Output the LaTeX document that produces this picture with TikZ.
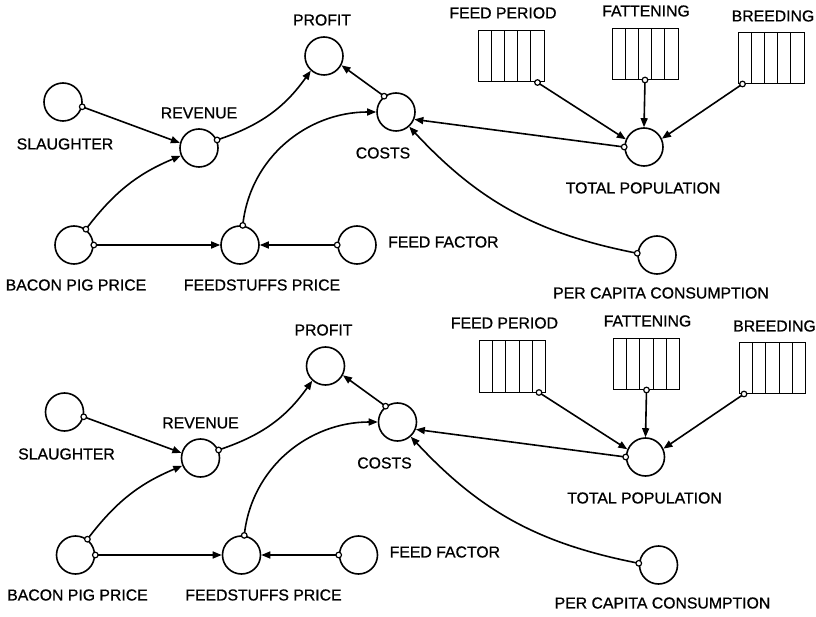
\documentclass[tikz,border=0pt]{standalone}
\usepackage{fontspec}
\setmainfont[FakeBold=0.8]{Liberation Sans}
\usetikzlibrary{arrows.meta,calc}

\tikzset{
  var/.style={circle, draw, line width=1.6pt, minimum size=38pt, inner sep=0pt},
  stock/.style={draw, line width=1pt, minimum width=66pt, minimum height=51pt, inner sep=0pt,
    path picture={\foreach \k in {1,...,4}{\draw[line width=1pt]
      ($(path picture bounding box.south west)+(\k*13.2pt,0)$) -- ++(0,51pt);}}},
  lab/.style={font=\fontsize{15.8}{18}\selectfont, inner sep=0pt},
  link/.style={line width=1.6pt, -{Triangle[length=9pt,width=7pt]}},
  tail/.style={draw, fill=white, line width=1.2pt},
}

% one influence link: start, end, path options; a small open circle marks the start
\newcommand\flow[3]{%
  \draw[link] (#1) to[#3] (#2);
  \draw[tail] (#1) circle[radius=2.8pt];
}

% the pig-cycle influence diagram, node names prefixed with #1
\newcommand\pigmodel[1]{%
  \node[var] (#1profit) at (324,-56) {};
  \node[var] (#1slaughter) at (63,-102) {};
  \node[var] (#1revenue) at (199,-148) {};
  \node[var] (#1costs) at (396,-112) {};
  \node[var] (#1bacon) at (74,-245) {};
  \node[var] (#1feedstuffs) at (240,-245) {};
  \node[var] (#1feedfactor) at (357,-245) {};
  \node[var] (#1totpop) at (644,-147) {};
  \node[var] (#1percap) at (657,-255) {};
  \node[stock] (#1feedperiod) at (511,-56.5) {};
  \node[stock] (#1fattening) at (645,-54) {};
  \node[stock] (#1breeding) at (771,-58) {};
  %
  \node[lab] (#1profitL) at (322,-20) {PROFIT};
  \node[lab] (#1slaughterL) at (65,-144) {SLAUGHTER};
  \node[lab] (#1revenueL) at (199,-113) {REVENUE};
  \node[lab] (#1costsL) at (383,-153) {COSTS};
  \node[lab] (#1baconL) at (76,-285) {BACON PIG PRICE};
  \node[lab] (#1feedstuffsL) at (262,-285) {FEEDSTUFFS PRICE};
  \node[lab, anchor=west] (#1feedfactorL) at (388,-242) {FEED FACTOR};
  \node[lab] (#1totpopL) at (643,-188) {TOTAL POPULATION};
  \node[lab] (#1percapL) at (661,-293) {PER CAPITA CONSUMPTION};
  \node[lab] (#1feedperiodL) at (503,-13) {FEED PERIOD};
  \node[lab] (#1fatteningL) at (646,-11) {FATTENING};
  \node[lab] (#1breedingL) at (773,-16) {BREEDING};
  %
  \coordinate (#1fpo) at ($(#1feedperiod.south east)+(-7pt,0)$);
  \coordinate (#1bro) at ($(#1breeding.south west)+(5pt,0)$);
  %
  \flow{#1slaughter.-14}{#1revenue.165}{}
  \flow{#1bacon.53}{#1revenue.203}{bend left=15}
  \flow{#1bacon.0}{#1feedstuffs.180}{}
  \flow{#1feedfactor.180}{#1feedstuffs.0}{}
  \flow{#1revenue.24}{#1profit.228}{bend right=18}
  \flow{#1costs.127}{#1profit.332}{}
  \flow{#1feedstuffs.82}{#1costs.180}{out=84,in=180}
  \flow{#1totpop.180}{#1costs.-22}{}
  \flow{#1percap.175}{#1costs.-48}{bend left=18}
  \flow{#1fpo}{#1totpop.157}{}
  \flow{#1fattening.south}{#1totpop.90}{}
  \flow{#1bro}{#1totpop.25}{}
}

\begin{document}
\begin{tikzpicture}[x=1pt,y=1pt]
  \useasboundingbox (0,0) rectangle (816,-617);
  \pigmodel{a}
  \begin{scope}[shift={(1.5,-310)}]
    \pigmodel{b}
  \end{scope}
\end{tikzpicture}
\end{document}
